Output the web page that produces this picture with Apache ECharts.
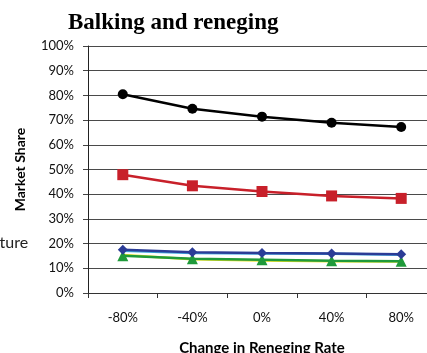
<!DOCTYPE html>
<html>
<head>
<meta charset="utf-8">
<script src="https://cdn.jsdelivr.net/npm/echarts@6/dist/echarts.min.js"></script>
<style>
  html, body { margin: 0; padding: 0; background: #fff; }
  #chart { width: 427px; height: 353px; }
</style>
</head>
<body>
<div id="chart"></div>
<script>
// Change in reneging rate (x categories)
const categories = ['-80%', '-40%', '0%', '40%', '80%'];

// Market share (%) for each competitor
const blackSeries = [80.5, 74.6, 71.4, 68.9, 67.2];
const redSeries = [47.9, 43.4, 41.1, 39.3, 38.3];
const lightBlueSeries = [17.1, 16.2, 16.0, 15.9, 15.5];
const blueSeries = [17.5, 16.5, 16.2, 16.0, 15.7];
const yellowSeries = [15.4, 13.7, 13.2, 12.9, 12.8];
const greenSeries = [15.1, 13.9, 13.5, 13.1, 12.9];

const uiFont = 'Lato, "Open Sans", sans-serif';

const chart = echarts.init(document.getElementById('chart'), null, { renderer: 'canvas' });

function line(name, data, color, symbol, size, width, z) {
  return {
    name: name,
    type: 'line',
    data: data,
    symbol: symbol,
    symbolSize: size,
    z: z,
    lineStyle: { color: color, width: width },
    itemStyle: { color: color },
    animation: false
  };
}

chart.setOption({
  animation: false,
  title: {
    text: 'Balking and reneging',
    left: 63,
    top: 7,
    textStyle: {
      fontFamily: '"Liberation Serif", serif',
      fontWeight: 'bold',
      fontSize: 23,
      color: '#000'
    }
  },
  graphic: [{
    type: 'text',
    left: -28,
    top: 235,
    style: {
      text: 'Capture',
      font: '16px ' + uiFont,
      fill: '#222'
    }
  }],
  grid: {
    left: 88, width: 348, top: 46, height: 247,
    containLabel: false,
    outerBoundsMode: 'none'
  },
  xAxis: {
    type: 'category',
    data: categories,
    boundaryGap: true,
    name: 'Change in Reneging Rate',
    nameLocation: 'middle',
    nameGap: 48,
    nameTextStyle: { fontFamily: uiFont, fontWeight: 'bold', fontSize: 15, color: '#000' },
    axisLine: { lineStyle: { color: '#333', width: 1 } },
    axisTick: { show: true, length: 5, lineStyle: { color: '#333' } },
    axisLabel: { fontFamily: uiFont, fontSize: 13, color: '#111', margin: 18 }
  },
  yAxis: {
    type: 'value',
    min: 0,
    max: 100,
    interval: 10,
    name: 'Market Share',
    nameLocation: 'middle',
    nameGap: 61,
    nameRotate: 90,
    nameTextStyle: { fontFamily: uiFont, fontWeight: 'bold', fontSize: 14, color: '#000' },
    axisLine: { show: true, lineStyle: { color: '#222', width: 1 } },
    axisTick: { show: true, length: 5, lineStyle: { color: '#444' } },
    splitLine: { show: true, lineStyle: { color: '#4a4a4a', width: 1 } },
    axisLabel: {
      fontFamily: uiFont,
      fontSize: 13,
      color: '#111',
      margin: 14,
      formatter: v => v + '%'
    }
  },
  series: [
    line('Light Blue', lightBlueSeries, '#3fa9e0', 'none', 0, 2.5, 1),
    line('Yellow', yellowSeries, '#e8e020', 'none', 0, 2.5, 1),
    line('Blue', blueSeries, '#2b3c96', 'diamond', 10, 2.5, 3),
    line('Green', greenSeries, '#1f9a3a', 'triangle', 11, 2.5, 2),
    line('Red', redSeries, '#c8202a', 'rect', 11, 2.5, 3),
    line('Black', blackSeries, '#000000', 'circle', 10, 2.5, 3)
  ]
});
</script>
</body>
</html>
